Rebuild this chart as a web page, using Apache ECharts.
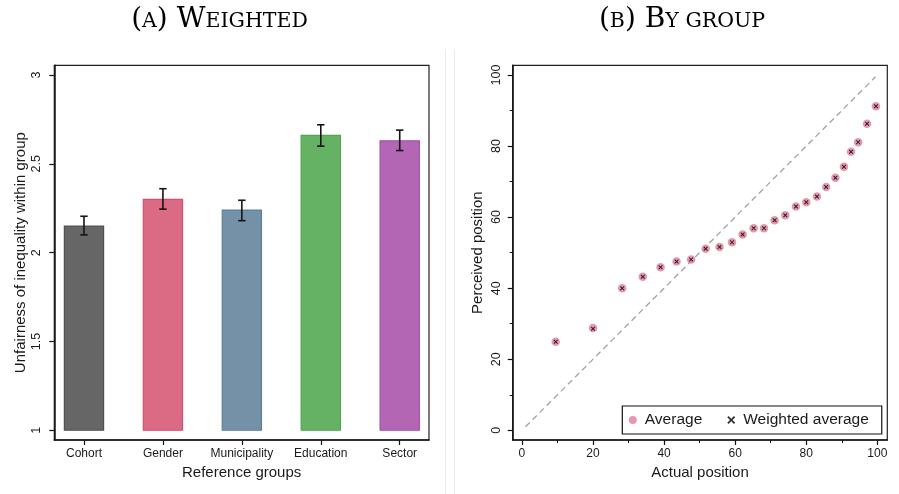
<!DOCTYPE html>
<html>
<head>
<meta charset="utf-8">
<script src="https://cdn.jsdelivr.net/npm/echarts@6/dist/echarts.min.js"></script>
<style>
html,body{margin:0;padding:0;background:#fff;}
#chart{width:899px;height:494px;}
</style>
</head>
<body>
<div id="chart"></div>
<script>
// ---- Panel A data ----
const categories = ['Cohort', 'Gender', 'Municipality', 'Education', 'Sector'];
const means = [2.15, 2.30, 2.24, 2.66, 2.63];
const ciLow = [2.10, 2.245, 2.18, 2.60, 2.575];
const ciHigh = [2.205, 2.36, 2.295, 2.72, 2.69];
const yTicksA = [1, 1.5, 2, 2.5, 3];

// ---- Panel B data ----
const actual = [9.5, 20, 28.2, 34, 39, 43.5, 47.6, 51.7, 55.6, 59.1, 62.1, 65.2, 68.1, 71.1, 74.1, 77.1, 80, 83, 85.6, 88.2, 90.6, 92.6, 94.6, 97.1, 99.6];
const average = [24.9, 28.8, 40, 43.2, 45.9, 47.5, 48.1, 51.1, 51.6, 52.9, 55.1, 56.9, 56.9, 59.1, 60.5, 63.0, 64.2, 65.8, 68.5, 71.1, 74.2, 78.4, 81.1, 86.3, 91.2];
const weightedAverage = [24.9, 28.6, 40, 43.2, 45.9, 47.5, 48.1, 51.1, 51.6, 52.9, 55.1, 56.9, 56.9, 59.1, 60.5, 63.0, 64.2, 65.8, 68.5, 71.1, 74.2, 78.4, 81.1, 86.3, 91.2];
const diagonal = [1, 99.5];
const majorTicksB = [0, 20, 40, 60, 80, 100];
const minorTicksB = [10, 30, 50, 70, 90];

// ---- styles ----
const barFill = ['#666666', '#db6a84', '#7591a8', '#66b264', '#b266b3'];
const barStroke = ['#4f4f4f', '#d44f6f', '#5f7f99', '#50a64e', '#a150a5'];
const FONT = 'Liberation Sans';
const TXT = '#1a1a1a';
const X_MARK = 'path://M0,1.6L1.6,0L5,3.4L8.4,0L10,1.6L6.6,5L10,8.4L8.4,10L5,6.6L1.6,10L0,8.4L3.4,5Z';

const chart = echarts.init(document.getElementById('chart'), null, {renderer: 'canvas'});

const barData = categories.map((c, i) => [i + 1, means[i]]);
const errData = categories.map((c, i) => [i + 1, ciLow[i], ciHigh[i]]);
const avgData = actual.map((x, i) => [x, average[i]]);
const wData = actual.map((x, i) => [x, weightedAverage[i]]);

const titleRich = {
  b: {fontFamily: 'DejaVu Serif', fontSize: 28, color: '#111', verticalAlign: 'bottom', lineHeight: 34},
  s: {fontFamily: 'DejaVu Serif', fontSize: 20.5, color: '#111', verticalAlign: 'bottom', lineHeight: 34, padding: [0, 0, 1.6, 0]}
};

const axisCommon = {
  axisLine: {show: true, onZero: false, lineStyle: {color: '#111', width: 1.5}},
  splitLine: {show: false},
  nameTextStyle: {fontFamily: FONT, fontSize: 15, color: TXT}
};

chart.setOption({
  animation: false,
  backgroundColor: '#fff',
  textStyle: {fontFamily: FONT},
  graphic: [
    {type: 'text', x: 219.5, y: 17, style: {text: '{b|(}{s|A}{b|) W}{s|EIGHTED}', rich: titleRich, align: 'center', verticalAlign: 'middle'}},
    {type: 'text', x: 682, y: 17, style: {text: '{b|(}{s|B}{b|) B}{s|Y GROUP}', rich: titleRich, align: 'center', verticalAlign: 'middle'}},
    {type: 'line', shape: {x1: 445.5, y1: 49, x2: 445.5, y2: 494}, style: {stroke: '#ececec', lineWidth: 1}},
    {type: 'line', shape: {x1: 454.5, y1: 49, x2: 454.5, y2: 494}, style: {stroke: '#ececec', lineWidth: 1}}
  ],
  grid: [
    {left: 54.3, top: 65.3, right: 470, bottom: 54, show: true, borderColor: '#222', borderWidth: 1.2, backgroundColor: '#fff'},
    {left: 512.7, top: 65.3, right: 11.7, bottom: 54, show: true, borderColor: '#222', borderWidth: 1.2, backgroundColor: '#fff'}
  ],
  xAxis: [
    Object.assign({}, axisCommon, {
      type: 'value', gridIndex: 0, position: 'bottom', min: 0.624, max: 5.371,
      name: 'Reference groups', nameLocation: 'middle', nameGap: 22,
      axisTick: {show: true, length: 5, customValues: [1, 2, 3, 4, 5], lineStyle: {color: '#111', width: 1.2}},
      axisLabel: {customValues: [1, 2, 3, 4, 5], formatter: v => categories[Math.round(v) - 1], fontSize: 12, color: TXT, margin: 8, fontFamily: FONT}
    }),
    Object.assign({}, axisCommon, {
      type: 'value', gridIndex: 1, position: 'bottom', min: -2.6, max: 102.8,
      name: 'Actual position', nameLocation: 'middle', nameGap: 22,
      axisTick: {show: true, length: 5, customValues: majorTicksB, lineStyle: {color: '#111', width: 1.2}},
      axisLabel: {customValues: majorTicksB, fontSize: 12, color: TXT, margin: 8, fontFamily: FONT}
    }),
    {
      type: 'value', gridIndex: 1, position: 'bottom', offset: 0, min: -2.6, max: 102.8,
      axisLine: {show: false, onZero: false}, splitLine: {show: false}, axisLabel: {show: false},
      axisTick: {show: true, length: 3, customValues: minorTicksB, lineStyle: {color: '#111', width: 1}}
    }
  ],
  yAxis: [
    Object.assign({}, axisCommon, {
      type: 'value', gridIndex: 0, position: 'left', min: 0.945, max: 3.055,
      name: 'Unfairness of inequality within group', nameLocation: 'middle', nameGap: 26,
      axisTick: {show: true, length: 5, customValues: yTicksA, lineStyle: {color: '#111', width: 1.2}},
      axisLabel: {customValues: yTicksA, rotate: 90, fontSize: 12.5, color: TXT, margin: 11, fontFamily: FONT}
    }),
    Object.assign({}, axisCommon, {
      type: 'value', gridIndex: 1, position: 'left', min: -2.73, max: 102.73,
      name: 'Perceived position', nameLocation: 'middle', nameGap: 27,
      axisTick: {show: true, length: 5, customValues: majorTicksB, lineStyle: {color: '#111', width: 1.2}},
      axisLabel: {customValues: majorTicksB, rotate: 90, fontSize: 12.5, color: TXT, margin: 10, fontFamily: FONT}
    }),
    {
      type: 'value', gridIndex: 1, position: 'left', offset: 0, min: -2.73, max: 102.73,
      axisLine: {show: false, onZero: false}, splitLine: {show: false}, axisLabel: {show: false},
      axisTick: {show: true, length: 3, customValues: minorTicksB, lineStyle: {color: '#111', width: 1}}
    }
  ],
  legend: {
    data: [
      {name: 'Average', icon: 'circle'},
      {name: 'Weighted average', icon: X_MARK}
    ],
    left: 622.3, top: 406,
    orient: 'horizontal',
    itemWidth: 14, itemHeight: 8, itemGap: 25,
    padding: [6, 13, 6, 6.5],
    borderColor: '#111', borderWidth: 1.2,
    textStyle: {fontFamily: FONT, fontSize: 15.5, color: TXT},
    selectedMode: false
  },
  series: [
    {
      name: 'bars', type: 'custom', xAxisIndex: 0, yAxisIndex: 0,
      data: barData, encode: {x: 0, y: 1},
      renderItem: function (params, api) {
        const i = params.dataIndex;
        const x = api.value(0), v = api.value(1);
        const p0 = api.coord([x, 1]);
        const p1 = api.coord([x, v]);
        const w = api.size([1, 0])[0] * 0.497;
        return {type: 'rect', shape: {x: p0[0] - w / 2, y: p1[1], width: w, height: p0[1] - p1[1]},
          style: {fill: barFill[i], stroke: barStroke[i], lineWidth: 1.2}};
      }
    },
    {
      name: 'ci', type: 'custom', xAxisIndex: 0, yAxisIndex: 0,
      data: errData, encode: {x: 0, y: [1, 2]}, z: 5,
      renderItem: function (params, api) {
        const x = api.value(0);
        const lo = api.coord([x, api.value(1)]);
        const hi = api.coord([x, api.value(2)]);
        const c = 3.7;
        const st = {stroke: '#151515', lineWidth: 1.6};
        return {type: 'group', children: [
          {type: 'line', shape: {x1: lo[0], y1: lo[1], x2: hi[0], y2: hi[1]}, style: st},
          {type: 'line', shape: {x1: lo[0] - c, y1: lo[1], x2: lo[0] + c, y2: lo[1]}, style: st},
          {type: 'line', shape: {x1: hi[0] - c, y1: hi[1], x2: hi[0] + c, y2: hi[1]}, style: st}
        ]};
      }
    },
    {
      name: 'diag', type: 'line', xAxisIndex: 1, yAxisIndex: 1,
      data: [[diagonal[0], diagonal[0]], [diagonal[1], diagonal[1]]],
      symbol: 'none', silent: true,
      lineStyle: {color: '#a3a3a3', width: 1.3, type: [6, 4]}
    },
    {
      name: 'Average', type: 'scatter', xAxisIndex: 1, yAxisIndex: 1,
      data: avgData, symbol: 'circle', symbolSize: 8.5,
      itemStyle: {color: '#e0809a'}, z: 3
    },
    {
      name: 'Weighted average', type: 'scatter', xAxisIndex: 1, yAxisIndex: 1,
      data: wData, symbol: X_MARK, symbolSize: 4.5,
      itemStyle: {color: '#000'}, z: 4
    }
  ]
});
</script>
</body>
</html>
